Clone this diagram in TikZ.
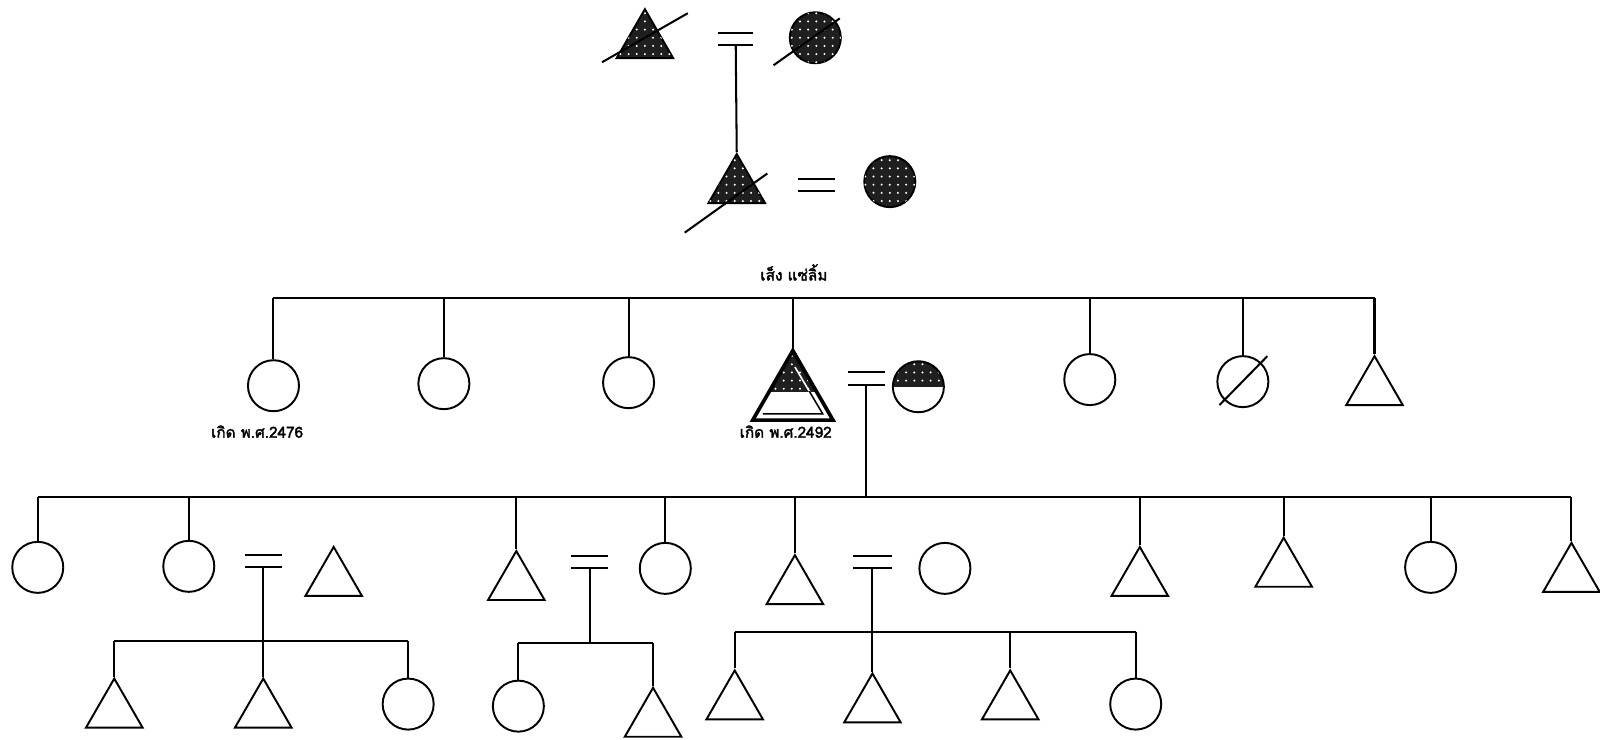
\documentclass[tikz,border=0pt]{standalone}
\usepackage{fontspec}
\newfontfamily\thaifont[Script=Thai, FakeBold=2.2]{Loma}
\usetikzlibrary{shapes.geometric,patterns.meta,calc}
\newcommand\kinEq[4]{%
  \coordinate (#1) at (#2,#3);
  \draw[lk] (#2-#4,#3) -- (#2+#4,#3);
  \draw[lk] (#2-#4,#3-12) -- (#2+#4,#3-12);}
\begin{document}
\begin{tikzpicture}[x=1pt,y=-1pt,
  lk/.style={line width=2pt},
  fem/.style={circle, draw, line width=1.9pt, minimum size=50pt, inner sep=0pt},
  mal/.style={regular polygon, regular polygon sides=3, draw, line width=1.9pt, minimum size=64pt, inner sep=0pt},
  dotfill/.style={pattern={Dots[distance=8pt,radius=1.1pt]}, pattern color=white},
  dark/.style={fill=black!88, postaction={dotfill}},
  hlbl/.style={font=\thaifont\fontsize{15}{17}\selectfont, inner sep=0pt}]
\useasboundingbox (0,0) rectangle (1568,725);

% generation 1
\node[mal,dark] (g1m) at (632,41) {};
\node[fem,dark] (g1f) at (799,37) {};
\draw[lk] ([shift={(-42,20)}]g1m.center) -- ([shift={(42,-28)}]g1m.center);
\draw[lk] ([shift={(-41,27)}]g1f.center) -- ([shift={(24,-19)}]g1f.center);
\kinEq{m1}{721}{44}{17}

% generation 2
\node[mal,dark] (g2m) at (722,183) {};
\node[fem,dark] (g2f) at (872,178) {};
\draw[lk] ([shift={(-51,45)}]g2m.center) -- ([shift={(30,-13)}]g2m.center);
\kinEq{m2}{800}{187}{18}
\draw[lk] (m1) -- (g2m.corner 1);

\node[hlbl] (lname) at (778,267) {เส็ง แซ่ลิ้ม};

% generation 3 (siblings)
\coordinate (r2L) at (268,292);
\coordinate (r2R) at (1347,292);
\draw[lk] (r2L) -- (r2R);
\node[fem] (a1) at (268,378) {};
\node[fem] (a2) at (435,376) {};
\node[fem] (a3) at (616,375) {};
\node[regular polygon, regular polygon sides=3, minimum size=90pt, inner sep=0pt] (ego) at (777,389) {};
\node[fem, path picture={
   \fill[black!88] (path picture bounding box.north west) rectangle (path picture bounding box.east);
   \fill[dotfill] (path picture bounding box.north west) rectangle (path picture bounding box.east);}] (asp) at (900,379) {};
\node[fem] (a5) at (1068,372) {};
\node[fem] (a6) at (1218,374) {};
\draw[lk] ([shift={(-23,23)}]a6.center) -- ([shift={(24,-25)}]a6.center);
\node[mal] (a7) at (1347,381) {};
\foreach \n in {a1,a2,a3,a5,a6} \draw[lk] (\n.north |- r2L) -- (\n.north);
\draw[lk] (ego.corner 1 |- r2L) -- (ego.corner 1);
\draw[lk] (a7.corner 1 |- r2L) -- (a7.corner 1);

% ego triangle
\begin{scope}
  \clip (ego.corner 1) -- (ego.corner 2) -- (ego.corner 3) -- cycle;
  \fill[white] (700,330) rectangle (860,420);
  \fill[black!88] (700,330) rectangle (860,384);
  \fill[dotfill] (700,330) rectangle (860,384);
\end{scope}
\begin{scope}
  \clip (700,330) rectangle (860,384);
  \draw[white,line width=1.6pt] ($(ego.corner 1)+(2,16)$) -- ($(ego.corner 3)+(-10,-6)$);
\end{scope}
\begin{scope}
  \clip (700,384) rectangle (860,420);
  \draw[black,line width=1.5pt] ($(ego.corner 1)+(2,16)$) -- ($(ego.corner 3)+(-10,-6)$) -- ($(ego.corner 2)+(10,-6)$);
\end{scope}
\draw[line width=3.6pt] (ego.corner 1) -- (ego.corner 2) -- (ego.corner 3) -- cycle;

\kinEq{m3}{849}{377}{18}
\node[hlbl] (lb1) at (252,423) {เกิด พ.ศ.2476};
\node[hlbl] (lb2) at (770,423) {เกิด พ.ศ.2492};

% generation 4
\coordinate (r3L) at (37,487);
\coordinate (r3R) at (1540,487);
\draw[lk] (r3L) -- (r3R);
\draw[lk] (m3) -- (m3 |- r3L);
\node[fem] (b1) at (37,556) {};
\node[fem] (b2) at (185,555) {};
\node[mal] (b2s) at (327,568) {};
\node[mal] (b3) at (506,572) {};
\node[fem] (b3s) at (652,557) {};
\node[mal] (b4) at (779,576) {};
\node[fem] (b4s) at (926,557) {};
\node[mal] (b5) at (1117,568) {};
\node[mal] (b6) at (1258,559) {};
\node[fem] (b7) at (1402,556) {};
\node[mal] (b8) at (1540,564) {};
\foreach \n in {b1,b2,b3s,b7} \draw[lk] (\n.north |- r3L) -- (\n.north);
\foreach \n in {b3,b4,b5,b6,b8} \draw[lk] (\n.corner 1 |- r3L) -- (\n.corner 1);
\kinEq{m4}{258}{556}{18}
\kinEq{m5}{578}{557}{18}
\kinEq{m6}{855}{557}{19}

% generation 5
\coordinate (rAL) at (112,628);
\coordinate (rAR) at (400,628);
\draw[lk] (rAL) -- (rAR);
\node[mal] (d1) at (112,697) {};
\node[mal] (d2) at (258,697) {};
\node[fem] (d3) at (400,690) {};
\draw[lk] (m4) -- (d2.corner 1);
\draw[lk] (d1.corner 1 |- rAL) -- (d1.corner 1);
\draw[lk] (d3.north |- rAL) -- (d3.north);

\coordinate (rBL) at (508,630);
\coordinate (rBR) at (640,630);
\draw[lk] (rBL) -- (rBR);
\draw[lk] (m5) -- (m5 |- rBL);
\node[fem] (e1) at (508,692) {};
\node[mal] (e2) at (640,706) {};
\draw[lk] (e1.north |- rBL) -- (e1.north);
\draw[lk] (e2.corner 1 |- rBL) -- (e2.corner 1);

\coordinate (rCL) at (720,619);
\coordinate (rCR) at (1113,619);
\draw[lk] (rCL) -- (rCR);
\node[mal] (f1) at (720,689) {};
\node[mal] (f2) at (855,692) {};
\node[mal] (f3) at (990,689) {};
\node[fem] (f4) at (1113,690) {};
\draw[lk] (m6) -- (f2.corner 1);
\draw[lk] (f1.corner 1 |- rCL) -- (f1.corner 1);
\draw[lk] (f3.corner 1 |- rCL) -- (f3.corner 1);
\draw[lk] (f4.north |- rCL) -- (f4.north);
\end{tikzpicture}
\end{document}
